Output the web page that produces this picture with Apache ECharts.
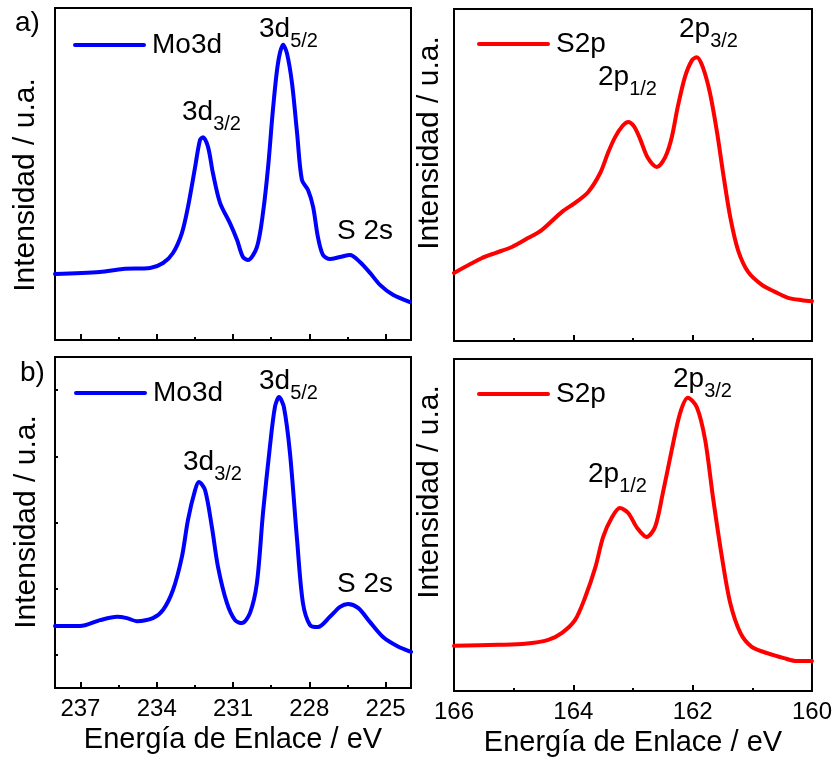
<!DOCTYPE html>
<html>
<head>
<meta charset="utf-8">
<script src="https://cdn.jsdelivr.net/npm/echarts@6/dist/echarts.min.js"></script>
<style>
html, body { margin: 0; padding: 0; background: #fff; }
#chart { width: 835px; height: 760px; }
</style>
</head>
<body>
<div id="chart"></div>
<script>
// XPS spectra: Mo 3d and S 2p regions for samples a) and b)
// Binding energy in eV, intensity in arbitrary units (0–100 scale)

// Sample a) Mo 3d
const mo3dEnergyA = [238.00, 236.23, 235.33, 234.26, 233.75, 233.36, 233.01, 232.77, 232.49, 232.30,
  232.18, 231.98, 231.79, 231.51, 231.12, 230.84, 230.61, 230.41, 230.06, 229.82,
  229.62, 229.43, 229.23, 229.03, 228.88, 228.68, 228.48, 228.29, 228.05, 227.85,
  227.66, 227.46, 227.19, 226.79, 226.40, 226.01, 225.61, 225.22, 224.71, 224.04];
const mo3dIntensityA = [19.9, 20.5, 21.4, 21.7, 23.2, 26.2, 32.2, 40.1, 52.1, 60.2,
  61.1, 58.1, 50.3, 41.3, 35.2, 30.1, 25.0, 24.1, 28.0, 38.3,
  52.1, 69.3, 83.4, 88.9, 86.4, 77.4, 62.3, 48.2, 45.2, 40.1,
  31.0, 25.6, 24.4, 25.0, 25.6, 23.5, 20.2, 16.6, 13.6, 11.4];

// Sample a) S 2p
const s2pEnergyA = [166.00, 165.53, 165.31, 165.03, 164.76, 164.53, 164.19, 163.97, 163.75, 163.55,
  163.42, 163.30, 163.17, 163.08, 162.98, 162.88, 162.75, 162.60, 162.46, 162.35, 162.25,
  162.13, 162.01, 161.93, 161.83, 161.71, 161.59, 161.49, 161.37, 161.24, 161.07,
  160.84, 160.62, 160.40, 160.17, 160.00];
const s2pIntensityA = [20.5, 25.0, 26.5, 28.3, 31.0, 33.4, 38.9, 41.6, 44.9, 50.6,
  56.6, 61.4, 64.9, 66.0, 64.6, 60.8, 55.1, 52.4, 55.4, 61.4, 70.5,
  79.5, 84.6, 85.5, 82.5, 74.7, 62.7, 50.6, 37.3, 27.4, 20.8,
  16.9, 14.8, 13.0, 12.3, 12.0];

// Sample b) Mo 3d
const mo3dEnergyB = [238.00, 237.02, 236.23, 235.56, 235.17, 234.78, 234.15, 233.75, 233.36, 233.01,
  232.77, 232.49, 232.34, 232.10, 231.83, 231.59, 231.24, 230.92, 230.65, 230.33,
  230.06, 229.82, 229.55, 229.35, 229.19, 229.00, 228.76, 228.48, 228.25, 227.97,
  227.66, 227.19, 226.79, 226.48, 226.08, 225.61, 225.10, 224.55, 224.00];
const mo3dIntensityB = [18.7, 18.7, 20.5, 21.5, 21.1, 20.2, 21.1, 23.6, 29.6, 39.6,
  50.8, 59.8, 62.2, 59.8, 48.6, 36.6, 25.7, 20.5, 19.6, 22.7,
  31.7, 52.9, 72.8, 84.9, 87.9, 84.9, 71.0, 44.7, 25.7, 19.0,
  18.4, 21.5, 24.5, 25.4, 24.2, 19.9, 15.4, 12.7, 10.9];

// Sample b) S 2p
const s2pEnergyB = [166.00, 165.26, 164.81, 164.42, 164.19, 163.97, 163.80, 163.63, 163.50, 163.35,
  163.22, 163.08, 162.93, 162.77, 162.63, 162.50, 162.35, 162.21, 162.08, 161.93,
  161.79, 161.66, 161.51, 161.37, 161.20, 161.01, 160.75, 160.47, 160.25, 160.00];
const s2pIntensityB = [13.6, 13.9, 14.2, 15.4, 17.5, 21.4, 28.3, 37.3, 46.4, 52.4,
  55.1, 53.6, 49.1, 46.4, 49.4, 59.6, 72.6, 83.7, 88.3, 85.5,
  75.6, 58.4, 40.4, 26.5, 17.5, 13.3, 11.4, 9.9, 9.0, 9.0];

// Axis ticks
const moTickValues = [237, 234, 231, 228, 225];
const moMinorTickValues = [235.5, 232.5, 229.5, 226.5];
const intensityTickValues = [10, 30, 50, 70, 90];

const FONT = '"Liberation Sans", Arial, Helvetica, sans-serif';
const BLUE = '#0000ff';
const RED = '#ff0000';

function pairs(xs, ys) { return xs.map((x, i) => [x, ys[i]]); }

const grids = [
  { left: 55, top: 8, width: 356, height: 332 },    // a) Mo 3d
  { left: 454, top: 9, width: 358, height: 332 },   // a) S 2p
  { left: 55, top: 357, width: 356, height: 331 },  // b) Mo 3d
  { left: 454, top: 359, width: 358, height: 332 }  // b) S 2p
].map(g => Object.assign(g, { show: true, borderColor: '#000', borderWidth: 2, backgroundColor: 'transparent' }));

const xName = 'Energía de Enlace / eV';

function moAxis(gridIndex, withLabels) {
  return {
    type: 'value', gridIndex, min: 224, max: 238, inverse: true,
    axisLine: { show: false },
    splitLine: { show: false },
    axisTick: { show: true, inside: true, length: 6, customValues: moTickValues, lineStyle: { color: '#000', width: 2 } },
    axisLabel: { show: withLabels, customValues: moTickValues, fontSize: 24, color: '#000', fontFamily: FONT, margin: 9 },
    name: withLabels ? xName : '', nameLocation: 'middle', nameGap: 37,
    nameTextStyle: { fontSize: 29, color: '#000', fontFamily: FONT }
  };
}
function moMinorAxis(gridIndex) {
  return {
    type: 'value', gridIndex, min: 224, max: 238, inverse: true, position: 'bottom',
    axisLine: { show: false }, splitLine: { show: false }, axisLabel: { show: false },
    axisTick: { show: true, inside: true, length: 3, customValues: moMinorTickValues, lineStyle: { color: '#000', width: 2 } }
  };
}
function sAxis(gridIndex, withLabels) {
  return {
    type: 'value', gridIndex, min: 160, max: 166, interval: 2, inverse: true,
    axisLine: { show: false },
    splitLine: { show: false },
    axisTick: { show: true, inside: true, length: 6, lineStyle: { color: '#000', width: 2 } },
    minorTick: { show: true, splitNumber: 2, length: 3, lineStyle: { color: '#000', width: 2 } },
    minorSplitLine: { show: false },
    axisLabel: { show: withLabels, fontSize: 24, color: '#000', fontFamily: FONT, margin: 9 },
    name: withLabels ? xName : '', nameLocation: 'middle', nameGap: 37,
    nameTextStyle: { fontSize: 29, color: '#000', fontFamily: FONT }
  };
}
function yAxis(gridIndex, ticks) {
  return {
    type: 'value', gridIndex, min: 0, max: 100,
    axisLine: { show: false }, splitLine: { show: false }, axisLabel: { show: false },
    axisTick: ticks
      ? { show: true, inside: true, length: 3, customValues: intensityTickValues, lineStyle: { color: '#000', width: 2 } }
      : { show: false }
  };
}

function spectrum(name, color, xIdx, yIdx, data) {
  return {
    name, type: 'line', xAxisIndex: xIdx, yAxisIndex: yIdx,
    data, symbol: 'none', showSymbol: false, smooth: 0.3,
    lineStyle: { color, width: 4, cap: 'round', join: 'round' },
    itemStyle: { color },
    silent: true, animation: false
  };
}

function legendAt(left, top, name) {
  return {
    left, top, data: [name], selectedMode: false, padding: 0,
    itemWidth: 69, itemHeight: 4, itemGap: 0,
    textStyle: { fontSize: 28, color: '#000', fontFamily: FONT, padding: [0, 0, 0, 3] },
    lineStyle: { width: 4, cap: 'round' }
  };
}

// Peak label with subscript, e.g. 3d{s|5/2}
function peakLabel(x, y, main, sub) {
  return {
    type: 'text', x, y, silent: true,
    style: {
      text: sub ? '{m|' + main + '}{s|' + sub + '}' : '{m|' + main + '}',
      align: 'left', verticalAlign: 'top', textAlign: 'left', textVerticalAlign: 'top',
      fill: '#000', fontFamily: FONT,
      rich: {
        m: { fontSize: 28, fontFamily: FONT, fill: '#000', color: '#000', padding: [0, 0, 8, 0], verticalAlign: 'bottom' },
        s: { fontSize: 20, fontFamily: FONT, fill: '#000', color: '#000', verticalAlign: 'bottom' }
      }
    }
  };
}
function plainText(x, y, text, rotate, align, size) {
  return {
    type: 'text', x, y, rotation: rotate ? Math.PI / 2 : 0, silent: true,
    style: {
      text, fontSize: size || 28, fontFamily: FONT, fill: '#000',
      align: align || 'center', textAlign: align || 'center',
      verticalAlign: rotate ? 'middle' : 'top', textVerticalAlign: rotate ? 'middle' : 'top'
    }
  };
}

const yTitle = 'Intensidad / u.a.';

const option = {
  backgroundColor: '#fff',
  animation: false,
  grid: grids,
  xAxis: [moAxis(0, false), sAxis(1, false), moAxis(2, true), sAxis(3, true), moMinorAxis(0), moMinorAxis(2)],
  yAxis: [yAxis(0, false), yAxis(1, false), yAxis(2, true), yAxis(3, false)],
  legend: [
    legendAt(73, 31, 'Mo3d'),
    legendAt(477, 30, 'S2p'),
    legendAt(74, 379, 'Mo3d'),
    legendAt(477, 380, 'S2p')
  ],
  series: [
    spectrum('Mo3d', BLUE, 0, 0, pairs(mo3dEnergyA, mo3dIntensityA)),
    spectrum('S2p', RED, 1, 1, pairs(s2pEnergyA, s2pIntensityA)),
    spectrum('Mo3d', BLUE, 2, 2, pairs(mo3dEnergyB, mo3dIntensityB)),
    spectrum('S2p', RED, 3, 3, pairs(s2pEnergyB, s2pIntensityB))
  ],
  graphic: [
    plainText(15, 9, 'a)', false, 'left'),
    plainText(20, 359, 'b)', false, 'left'),
    plainText(26, 185, yTitle, true, null, 30),
    plainText(430, 143, yTitle, true, null, 30),
    plainText(27, 522, yTitle, true, null, 30),
    plainText(430, 492, yTitle, true, null, 30),
    peakLabel(182, 98, '3d', '3/2'),
    peakLabel(259, 15, '3d', '5/2'),
    peakLabel(337, 217, 'S 2s', null),
    peakLabel(598, 63, '2p', '1/2'),
    peakLabel(679, 15, '2p', '3/2'),
    peakLabel(183, 448, '3d', '3/2'),
    peakLabel(259, 367, '3d', '5/2'),
    peakLabel(337, 570, 'S 2s', null),
    peakLabel(588, 460, '2p', '1/2'),
    peakLabel(673, 365, '2p', '3/2')
  ]
};

const chart = echarts.init(document.getElementById('chart'), null, { renderer: 'canvas' });
chart.setOption(option);
</script>
</body>
</html>
